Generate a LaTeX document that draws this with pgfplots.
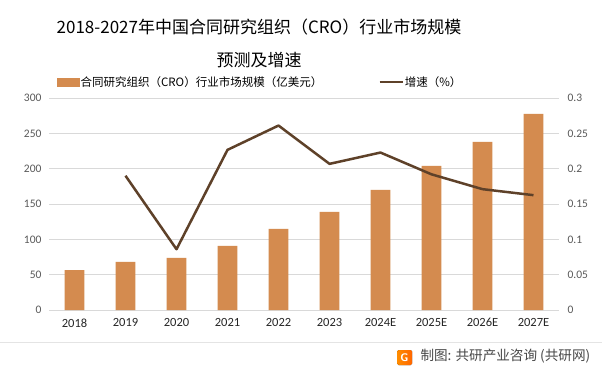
\documentclass[border=0pt]{standalone}
\usepackage{pgfplots}
\pgfplotsset{compat=1.18}
\usepackage{fontspec}
\setmainfont{Carlito}
\newfontfamily\cjk{Noto Sans CJK SC}
\definecolor{barcol}{HTML}{D48B4F}
\definecolor{linecol}{HTML}{5E4129}
\definecolor{gridcol}{HTML}{D9D9D9}
\definecolor{tickcol}{HTML}{595959}
\definecolor{txtcol}{HTML}{262626}
\begin{document}
\begin{tikzpicture}[x=1pt,y=1pt]
\path[use as bounding box, fill=white] (0,0) rectangle (602,375);
% title
\node[font=\cjk\fontsize{17}{20}\selectfont, text=black] at (259,348) {2018-2027年中国合同研究组织（CRO）行业市场规模};
\node[font=\cjk\fontsize{17}{20}\selectfont, text=black] at (259,315) {预测及增速};
\begin{axis}[
  at={(49pt,65pt)}, anchor=south west,
  width=510pt, height=212pt, scale only axis,
  xmin=-0.5, xmax=9.5, ymin=0, ymax=300,
  ytick={0,50,...,300},
  xtick={0,...,9},
  xticklabels={2018,2019,2020,2021,2022,2023,2024E,2025E,2026E,2027E},
  axis line style={draw=none}, major tick length=0pt,
  ymajorgrids, grid style={gridcol, line width=0.8pt},
  /pgf/number format/assume math mode=true,
  yticklabel style={font=\fontsize{11.5}{13}\selectfont, text=tickcol, xshift=-4pt},
  xticklabel style={font=\fontsize{12.5}{14}\selectfont, text=txtcol, yshift=-5pt},
  clip=false,
]
\addplot[ybar, bar width=0.39, fill=barcol, draw=none] coordinates {
(0,56.6) (1,68) (2,73.6) (3,90.6) (4,114.7) (5,138.8) (6,170) (7,204) (8,238) (9,277.6)};
\end{axis}
\begin{axis}[
  at={(49pt,65pt)}, anchor=south west,
  width=510pt, height=212pt, scale only axis,
  xmin=-0.5, xmax=9.5, ymin=0, ymax=0.3,
  axis x line=none, axis y line*=right,
  y axis line style={draw=none}, major tick length=0pt,
  ytick={0,0.05,0.1,0.15,0.2,0.25,0.3},
  yticklabels={0,0.05,0.1,0.15,0.2,0.25,0.3},
  yticklabel style={font=\fontsize{11.5}{13}\selectfont, text=tickcol, xshift=5pt},
  legend columns=2,
  legend style={at={(rel axis cs:0.0157,1.075)}, anchor=west, draw=none, fill=none,
    inner sep=0pt, font=\cjk\fontsize{11.5}{13}\selectfont, text=black,
    nodes={inner sep=1pt},
    /tikz/every even column/.append style={column sep=55pt}},
  clip=false,
]
\addlegendimage{legend image code/.code={\fill[barcol] (0pt,-4pt) rectangle (22pt,4pt);}}
\addlegendentry{合同研究组织（CRO）行业市场规模（亿美元）}
\addplot[linecol, line width=2.5pt, line join=round, mark=none,
  legend image code/.code={\draw[linecol, line width=2.5pt] (0pt,0pt) -- (23pt,0pt);}] coordinates {
(1,0.190) (2,0.086) (3,0.2266) (4,0.261) (5,0.2068) (6,0.2228) (7,0.192) (8,0.171) (9,0.1625)};
\addlegendentry{增速（\%）}
\end{axis}
% footer
\draw[gridcol!70, line width=0.6pt] (0,33) -- (602,33);
\fill[left color=orange!90!yellow, right color=orange!80!red, rounded corners=1.5pt] (397,10) rectangle (412,25);
\node[text=white, font=\sffamily\bfseries\fontsize{11}{12}\selectfont] at (404.5,17.5) {G};
\node[anchor=west, text=txtcol!85, font=\cjk\fontsize{13.6}{15}\selectfont] at (417,19) {制图: 共研产业咨询 (共研网)};
\end{tikzpicture}
\end{document}
